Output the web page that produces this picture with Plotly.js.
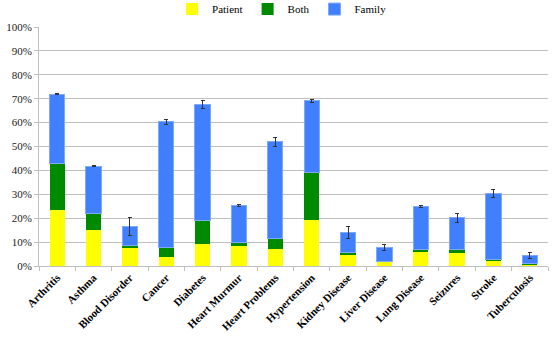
<!DOCTYPE html>
<html>
<head>
<meta charset="utf-8">
<script src="https://cdn.plot.ly/plotly-3.0.1.min.js"></script>
<style>html,body{margin:0;padding:0;background:#fff;}#chart{width:555px;height:337px;}</style>
</head>
<body>
<div id="chart"></div>
<script>
var categories = ["Arthritis","Asthma","Blood Disorder","Cancer","Diabetes","Heart Murmur","Heart Problems","Hypertension","Kidney Disease","Liver Disease","Lung Disease","Seizures","Stroke","Tuberculosis"];
var patient = [23.6, 15.0, 7.5, 3.8, 9.0, 8.4, 7.3, 19.4, 4.5, 1.6, 5.7, 5.6, 2.1, 0.6];
var both    = [19.3, 7.1, 1.2, 4.0, 9.9, 1.4, 4.2, 19.6, 1.0, 0.4, 1.3, 1.1, 0.7, 0.4];
var family  = [29.0, 19.7, 7.9, 52.6, 48.8, 15.5, 40.4, 30.1, 8.6, 5.7, 17.9, 13.4, 27.7, 3.5];
var errorTop = [0.3, 0.3, 3.9, 1.0, 1.7, 0.5, 1.7, 0.7, 2.6, 1.2, 0.6, 1.7, 1.7, 1.3];

var serif = "Liberation Serif";
var traces = [
  {type:"bar", name:"Patient", x:categories, y:patient, marker:{color:"#FFFF00"}},
  {type:"bar", name:"Both", x:categories, y:both, marker:{color:"#008A00"}},
  {type:"bar", name:"Family", x:categories, y:family, marker:{color:"#4080FF", line:{color:"#7FA8F8", width:1}},
   error_y:{type:"data", array:errorTop, visible:true, color:"#333333", thickness:1, width:2}}
];
var layout = {
  width:555, height:337,
  margin:{l:39, r:7, t:27, b:71},
  barmode:"stack",
  bargap:0.58,
  paper_bgcolor:"#fff", plot_bgcolor:"#fff",
  font:{family:serif, size:11, color:"#000"},
  showlegend:true,
  legend:{orientation:"h", xref:"container", yref:"container", x:0.31, xanchor:"left", y:0.973, yanchor:"middle",
          font:{family:serif, size:11, color:"#000"}, traceorder:"normal",
          itemwidth:30, itemclick:false, borderwidth:0, bgcolor:"rgba(0,0,0,0)"},
  xaxis:{type:"category", tickangle:-45, tickson:"boundaries", ticks:"outside", ticklen:4, tickcolor:"#bfbfbf",
         showline:true, linecolor:"#bfbfbf", linewidth:1, showgrid:false,
         tickfont:{family:serif, size:11, color:"#000", weight:"bold"}},
  yaxis:{range:[0,100], dtick:10, ticksuffix:"%", showgrid:true, gridcolor:"#c0c0c0", gridwidth:1,
         showline:true, linecolor:"#bfbfbf", ticks:"outside", ticklen:4, tickcolor:"#bfbfbf",
         zeroline:false, tickfont:{family:serif, size:11, color:"#222"}}
};
Plotly.newPlot("chart", traces, layout, {staticPlot:true, displayModeBar:false});
</script>
</body>
</html>
